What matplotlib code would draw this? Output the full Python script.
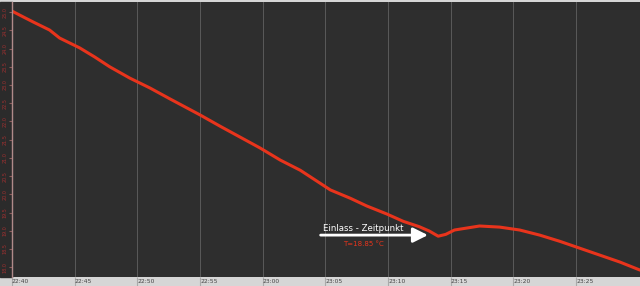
import matplotlib.pyplot as plt
from matplotlib.patches import Rectangle

# Zeit in Minuten ab 22:40, Temperatur in °C
minutes = [0, 0.9, 1.7, 3.0, 3.8, 5.4, 6.6, 7.8, 9.4, 11.0, 12.6, 13.8, 15.0,
           16.6, 18.2, 19.8, 21.4, 23.0, 24.2, 25.4, 27.0, 28.3, 29.9, 31.2,
           32.5, 33.3, 34.0, 34.6, 35.3, 37.3, 38.9, 40.5, 42.1, 43.7, 45.3,
           46.9, 48.5, 50.1]
temps = [25.03, 24.87, 24.73, 24.51, 24.29, 24.02, 23.77, 23.50, 23.19, 22.92,
         22.62, 22.40, 22.18, 21.87, 21.57, 21.27, 20.94, 20.66, 20.39, 20.12,
         19.89, 19.68, 19.46, 19.26, 19.11, 18.99, 18.85, 18.90, 19.02, 19.13,
         19.10, 19.02, 18.88, 18.71, 18.52, 18.33, 18.14, 17.92]

xtick_pos = [0, 5, 10, 15, 20, 25, 30, 35, 40, 45]
xtick_labels = ['22:40', '22:45', '22:50', '22:55', '23:00',
                '23:05', '23:10', '23:15', '23:20', '23:25']
ytick_pos = [18 + 0.5 * i for i in range(15)]

einlass_min = 34.0
einlass_temp = 18.85

fig = plt.figure(figsize=(6.4, 2.86), dpi=100, facecolor='#d6d6d6')
# dunkler Streifen links fuer die Y-Beschriftung
fig.patches.append(Rectangle((0, 9 / 286), 12 / 640, 275 / 286,
                             transform=fig.transFigure, color='#2b2b2b', zorder=-1))
ax = fig.add_axes([12 / 640, 9 / 286, 628 / 640, 275 / 286])
ax.set_facecolor('#2e2e2e')

ax.plot(minutes, temps, color='#e8341c', linewidth=2.2,
        solid_capstyle='round', solid_joinstyle='round')

ax.set_xlim(0, 50.1)
ax.set_ylim(17.73, 25.28)

ax.set_xticks(xtick_pos)
ax.set_xticklabels(xtick_labels, ha='left', fontsize=4.3, color='#444444')
ax.tick_params(axis='x', direction='out', length=7, color='#aaaaaa', pad=-5.5)
ax.grid(axis='x', color='#5a5a5a', linewidth=0.7)

ax.set_yticks(ytick_pos)
ax.set_yticklabels(['%.1f' % v for v in ytick_pos], rotation=90, va='center',
                   fontsize=3.5, color='#a03030')
ax.tick_params(axis='y', direction='out', length=2, color='#8a5a5a', pad=1)

for s in ['top', 'right', 'bottom']:
    ax.spines[s].set_visible(False)
ax.spines['left'].set_color('#b08a8a')
ax.spines['left'].set_linewidth(1.0)

# Pfeil Einlass
ax.annotate('', xy=(33.4, 18.88), xytext=(24.4, 18.88),
            arrowprops=dict(arrowstyle='-|>,head_length=0.9,head_width=0.45',
                            color='white', lw=2.0))
ax.text(24.8, 18.93, 'Einlass - Zeitpunkt', color='white', fontsize=6.2,
        ha='left', va='bottom')
ax.text(26.4, einlass_temp - 0.21, 'T=18.85 °C', color='#e8341c', fontsize=5.0,
        ha='left', va='center')

fig.savefig('out.png', dpi=100, facecolor=fig.get_facecolor())
